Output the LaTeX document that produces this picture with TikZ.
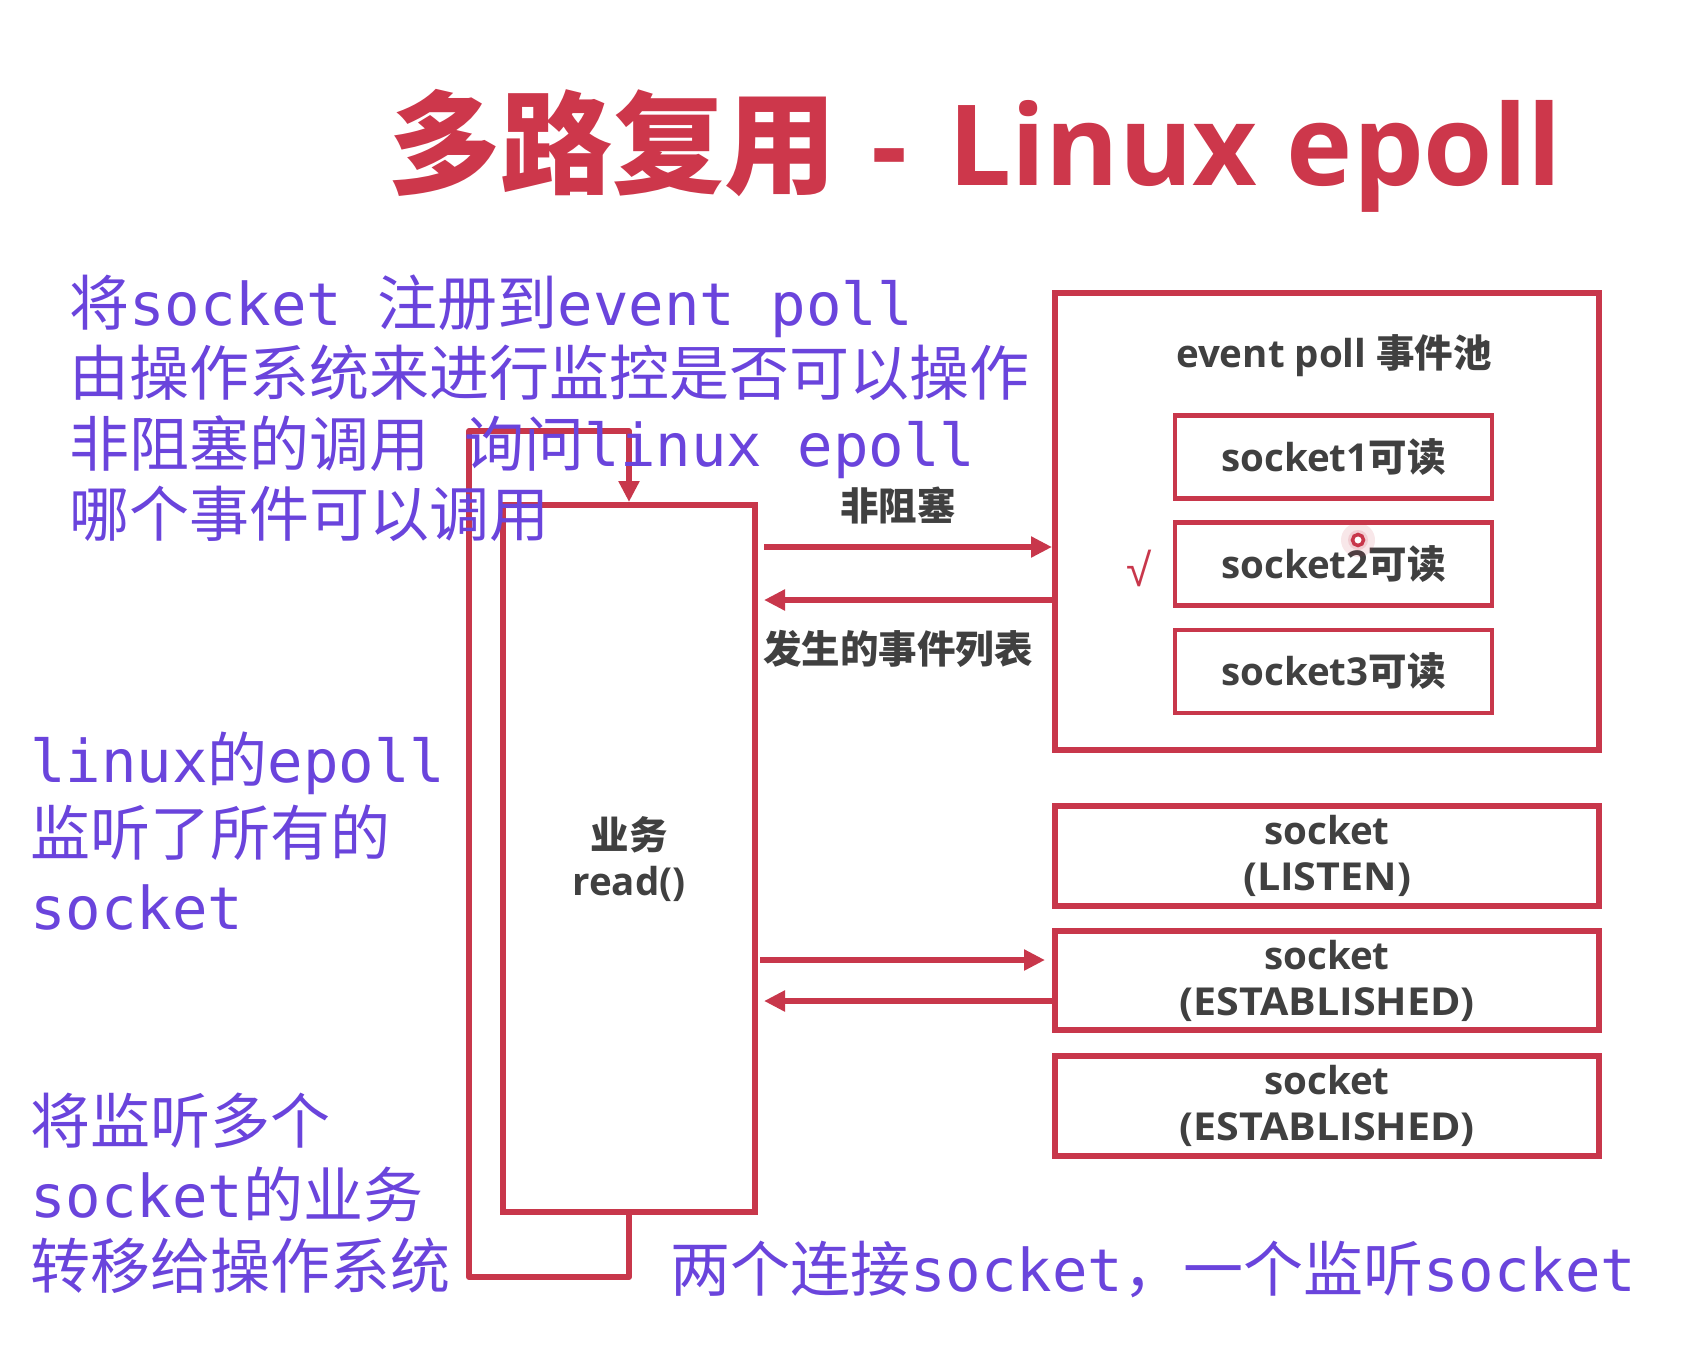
\documentclass[tikz,border=0pt]{standalone}
\usepackage{fontspec}
\usepackage{graphicx}
\usetikzlibrary{arrows.meta,calc}
\newfontfamily\cjk{Noto Sans CJK SC}
\newfontfamily\dmono{DejaVu Sans Mono}
\newfontfamily\osans{Open Sans}
\newfontfamily\lsans{Liberation Sans}
\definecolor{rd}{RGB}{200,55,75}
\definecolor{ttl}{RGB}{205,55,75}
\definecolor{pu}{RGB}{106,68,220}
\definecolor{gy}{RGB}{64,64,64}
\newcommand\Mo[1]{{\dmono\fontsize{59}{59}\selectfont #1}}
\newcommand\Gl[1]{{\osans\bfseries #1}}
\newcommand\Gw[1]{\scalebox{1.07}[1]{\osans\bfseries #1}}
\tikzset{
  ptext/.style={text=pu, inner sep=0pt, anchor=base west, font=\cjk\fontsize{60}{70}\selectfont},
  gtext/.style={text=gy, inner sep=0pt, align=center, font=\cjk\bfseries\fontsize{38.5}{46}\selectfont},
  bigbox/.style={draw=rd, line width=6pt, inner sep=0pt, minimum width=544pt},
  smallbox/.style={draw=rd, line width=4.5pt, inner sep=0pt, minimum width=317pt, minimum height=83pt},
  rl/.style={draw=rd, line width=6pt},
  arr/.style={rl, -{Triangle[length=21pt,width=20pt]}},
}
\begin{document}
\begin{tikzpicture}[x=1pt,y=-1pt]
\useasboundingbox (0,0) rectangle (1704,1344);
% title
\node[text=ttl, inner sep=0pt, anchor=base west, font=\fontsize{112}{120}\selectfont] (title) at (388,185)
  {{\cjk\bfseries 多路复用}\Gl{\hspace{6pt} -\hspace{12pt} Linux epoll}};
% event poll box
\node[bigbox, minimum height=457pt] (ep) at (1327,521.5) {};
\node[gtext] (eptitle) at (1334,356) {\Gl{event poll }事件池};
\node[smallbox] (s1) at (1333.5,457) {};
\node[smallbox] (s2) at (1333.5,564) {};
\node[smallbox] (s3) at (1333.5,671.5) {};
\node[gtext] (s1t) at (s1) {\Gl{socket1}可读};
\node[gtext] (s2t) at (s2) {\Gl{socket2}可读};
\node[gtext] (s3t) at (s3) {\Gl{socket3}可读};
\node[text=rd, inner sep=0pt, font=\lsans\fontsize{46}{46}\selectfont] (chk) at (1139,568) {√};
% socket boxes
\node[bigbox, minimum height=100pt] (lis) at (1327,856) {};
\node[gtext] (list) at (lis) {\Gl{socket}\\\Gw{(LISTEN)}};
\node[bigbox, minimum height=99pt] (est1) at (1327,980.5) {};
\node[gtext] (est1t) at (est1) {\Gl{socket}\\\Gw{(ESTABLISHED)}};
\node[bigbox, minimum height=100pt] (est2) at (1327,1106) {};
\node[gtext] (est2t) at (est2) {\Gl{socket}\\\Gw{(ESTABLISHED)}};
% business box
\node[draw=rd, line width=6pt, inner sep=0pt, minimum width=252pt, minimum height=707pt] (biz) at (629,858.5) {};
\node[gtext] (bizt) at (629,859.5) {业务\\\Gl{read()}};
% loop
\coordinate (lp1) at (469,1277);
\coordinate (lp2) at (469,431);
\draw[rl, line join=round, -{Triangle[length=21pt,width=20pt]}] (biz.south) -- (biz.south |- lp1) -- (lp1) -- (lp2) -- (lp2 -| biz.north) -- (biz.north);
% arrows
\coordinate (ya) at (0,547);
\coordinate (yb) at (0,600);
\coordinate (yc) at (0,960);
\coordinate (yd) at (0,1001);
\draw[arr] ($(biz.east |- ya)+(6,0)$) -- (ep.west |- ya);
\draw[arr] (ep.west |- yb) -- ($(biz.east |- yb)+(6,0)$);
\draw[arr] ($(biz.east |- yc)+(2,0)$) -- ($(est1.west |- yc)+(-7,0)$);
\draw[arr] (est1.west |- yd) -- ($(biz.east |- yd)+(6,0)$);
\node[gtext] (nb) at (898,506) {非阻塞};
\node[gtext] (evl) at (898,649) {发生的事件列表};
% cursor dot
\fill[rd, opacity=0.12] (1358,540) circle (17);
\fill[rd, opacity=0.15] (1358,540) circle (10);
\draw[rd, line width=3.5pt, fill=white] (1358,540) circle (5.5);
% purple annotations
\node[ptext] (t1) at (69,325) {将\Mo{socket\ }注册到\Mo{event poll}};
\node[ptext] (t2) at (69,395.5) {由操作系统来进行监控是否可以操作};
\node[ptext] (t3) at (69,466) {非阻塞的调用\Mo{\ }询问\Mo{linux epoll}};
\node[ptext] (t4) at (69,536.5) {哪个事件可以调用};
\node[ptext] (l1) at (30,782) {\Mo{linux}的\Mo{epoll}};
\node[ptext] (l2) at (30,855) {监听了所有的};
\node[ptext] (l3) at (30,929) {\Mo{socket}};
\node[ptext] (b1) at (30,1143) {将监听多个};
\node[ptext] (b2) at (30,1217) {\Mo{socket}的业务};
\node[ptext] (b3) at (30,1288) {转移给操作系统};
\node[ptext] (br) at (670,1291) {两个连接\Mo{socket}，一个监听\Mo{socket}};
\end{tikzpicture}
\end{document}
